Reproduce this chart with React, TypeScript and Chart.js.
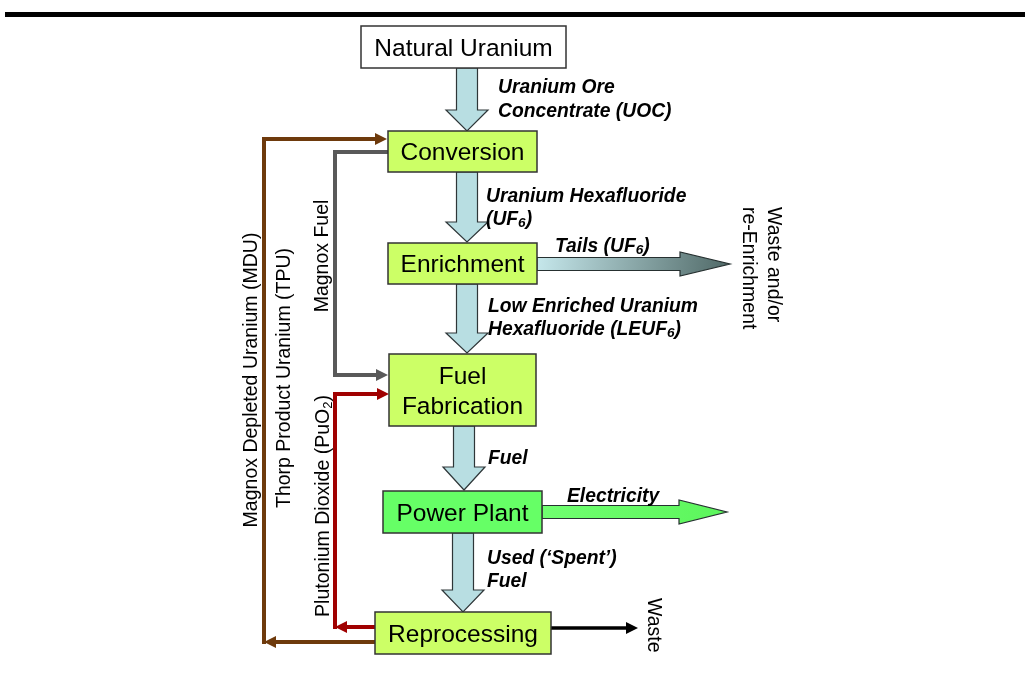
import React, { useEffect, useRef } from "react";
import { Chart, registerables } from "chart.js";
Chart.register(...registerables);

const W = 1025;
const H = 673;
const FONT = '"Liberation Sans", Arial, sans-serif';

// ---- process boxes (diagram units) ----
const boxLabels = ["Natural Uranium", "Conversion", "Enrichment", "Fuel\nFabrication", "Power Plant", "Reprocessing"];
const boxLeft = [361, 388, 388, 389, 383, 375];
const boxRight = [566, 537, 537, 536, 542, 551];
const boxTop = [26, 131, 243, 354, 491, 612];
const boxBottom = [68, 172, 284, 426, 533, 654];
const boxFill = ["#ffffff", "#ccff66", "#ccff66", "#ccff66", "#66ff66", "#ccff66"];

// ---- main vertical flow arrows ----
const flowX = [467, 467, 467, 464, 463];
const flowFrom = [68, 172, 284, 426, 533];
const flowTo = [131, 242, 353, 490, 612];
const flowHead = [110, 222, 333, 467, 590];

// ---- horizontal outlet arrows ----
const outFrom = [537, 542];
const outTo = [730, 727];
const outHead = [680, 679];
const outY = [264, 512];
const outFillA = ["#c6e8ec", "#70ff70"];
const outFillB = ["#4f6866", "#5cf55c"];

// ---- recycle connectors ----
const linkPaths: number[][][] = [
  [[375, 642], [264, 642]],
  [[264, 642], [264, 139], [387, 139]],
  [[388, 152], [335, 152], [335, 375], [388, 375]],
  [[375, 627], [335, 627]],
  [[335, 627], [335, 394], [389, 394]],
  [[551, 628], [638, 628]],
];
const linkColor = ["#6e3a0c", "#6e3a0c", "#595959", "#a00000", "#a00000", "#000000"];
const linkWidth = [4, 4, 4, 4, 4, 3.5];

// ---- flow annotations (bold italic) ----
const noteText = [
  "Uranium Ore", "Concentrate (UOC)", "Uranium Hexafluoride", "(UF_6)", "Tails (UF_6)",
  "Low Enriched Uranium", "Hexafluoride (LEUF_6)", "Fuel", "Electricity", "Used (\u2018Spent\u2019)", "Fuel",
];
const noteX = [498, 498, 486, 486, 555, 488, 488, 488, 567, 487, 487];
const noteY = [93, 117, 202, 225, 252, 312, 335, 464, 502, 564, 587];

// ---- vertical side labels (reading upward) ----
const sideText = ["Magnox Depleted Uranium (MDU)", "Thorp Product Uranium (TPU)", "Magnox Fuel", "Plutonium Dioxide (PuO_2)"];
const sideX = [250, 283, 321, 322];
const sideY = [380, 378, 256, 506];

// ---- destination labels (reading downward) ----
const destText = ["Waste and/or", "re-Enrichment", "Waste"];
const destX = [775, 750, 655];
const destTop = [207, 207, 598];

type Seg = { t: string; sub: boolean };
function parse(s: string): Seg[] {
  const out: Seg[] = [];
  const parts = s.split(/_(\d)/);
  parts.forEach((p, i) => {
    if (p) out.push({ t: p, sub: i % 2 === 1 });
  });
  return out;
}

function richWidth(ctx: CanvasRenderingContext2D, segs: Seg[], main: string, sub: string) {
  let w = 0;
  for (const s of segs) {
    ctx.font = s.sub ? sub : main;
    w += ctx.measureText(s.t).width;
  }
  return w;
}

function drawRich(ctx: CanvasRenderingContext2D, segs: Seg[], x: number, y: number, main: string, sub: string, subShift: number) {
  let cx = x;
  for (const s of segs) {
    ctx.font = s.sub ? sub : main;
    ctx.fillText(s.t, cx, s.sub ? y + subShift : y);
    cx += ctx.measureText(s.t).width;
  }
}

export default function App() {
  const ref = useRef<HTMLCanvasElement>(null);
  useEffect(() => {
    document.body.style.margin = "0";
    document.body.style.overflow = "hidden";
    const plugin = {
      id: "flowsheet",
      afterDatasetsDraw(chart: any) {
        const ctx: CanvasRenderingContext2D = chart.ctx;
        const xs = chart.scales.x;
        const ys = chart.scales.y;
        const px = (v: number) => xs.getPixelForValue(v);
        const py = (v: number) => ys.getPixelForValue(v);
        ctx.save();

        // top rule
        ctx.fillStyle = "#000";
        ctx.fillRect(px(5), py(12), px(1025) - px(5), py(17) - py(12));

        // vertical flow arrows
        for (let i = 0; i < flowX.length; i++) {
          const c = flowX[i];
          const sh = 10.5, hh = 21;
          ctx.beginPath();
          ctx.moveTo(px(c - sh), py(flowFrom[i]));
          ctx.lineTo(px(c + sh), py(flowFrom[i]));
          ctx.lineTo(px(c + sh), py(flowHead[i]));
          ctx.lineTo(px(c + hh), py(flowHead[i]));
          ctx.lineTo(px(c), py(flowTo[i]));
          ctx.lineTo(px(c - hh), py(flowHead[i]));
          ctx.lineTo(px(c - sh), py(flowHead[i]));
          ctx.closePath();
          ctx.fillStyle = "#b8dee2";
          ctx.fill();
          ctx.strokeStyle = "#2e3638";
          ctx.lineWidth = 1.2;
          ctx.stroke();
        }

        // horizontal outlet arrows
        for (let i = 0; i < outFrom.length; i++) {
          const y = outY[i];
          const sh = 6.5, hh = 12;
          ctx.beginPath();
          ctx.moveTo(px(outFrom[i]), py(y - sh));
          ctx.lineTo(px(outHead[i]), py(y - sh));
          ctx.lineTo(px(outHead[i]), py(y - hh));
          ctx.lineTo(px(outTo[i]), py(y));
          ctx.lineTo(px(outHead[i]), py(y + hh));
          ctx.lineTo(px(outHead[i]), py(y + sh));
          ctx.lineTo(px(outFrom[i]), py(y + sh));
          ctx.closePath();
          const g = ctx.createLinearGradient(px(outFrom[i]), py(y - hh), px(outTo[i]), py(y + hh));
          g.addColorStop(0, outFillA[i]);
          g.addColorStop(1, outFillB[i]);
          ctx.fillStyle = g;
          ctx.fill();
          ctx.strokeStyle = "#263030";
          ctx.lineWidth = 1.2;
          ctx.stroke();
        }

        // connectors
        for (let i = 0; i < linkPaths.length; i++) {
          const pts = linkPaths[i];
          const n = pts.length;
          const [ex, ey] = pts[n - 1];
          const [bx, by] = pts[n - 2];
          const len = Math.hypot(ex - bx, ey - by);
          const ux = (ex - bx) / len, uy = (ey - by) / len;
          const hl = 12, hw = 6;
          const baseX = ex - ux * hl, baseY = ey - uy * hl;
          ctx.beginPath();
          ctx.moveTo(px(pts[0][0]), py(pts[0][1]));
          for (let k = 1; k < n - 1; k++) ctx.lineTo(px(pts[k][0]), py(pts[k][1]));
          ctx.lineTo(px(baseX + ux * 1), py(baseY + uy * 1));
          ctx.strokeStyle = linkColor[i];
          ctx.lineWidth = linkWidth[i];
          ctx.lineJoin = "miter";
          ctx.lineCap = "square";
          ctx.stroke();
          ctx.beginPath();
          ctx.moveTo(px(ex), py(ey));
          ctx.lineTo(px(baseX - uy * hw), py(baseY + ux * hw));
          ctx.lineTo(px(baseX + uy * hw), py(baseY - ux * hw));
          ctx.closePath();
          ctx.fillStyle = linkColor[i];
          ctx.fill();
        }

        // boxes
        for (let i = 0; i < boxLabels.length; i++) {
          const x0 = px(boxLeft[i]), x1 = px(boxRight[i]);
          const y0 = py(boxTop[i]), y1 = py(boxBottom[i]);
          ctx.fillStyle = boxFill[i];
          ctx.fillRect(x0, y0, x1 - x0, y1 - y0);
          ctx.strokeStyle = "#333333";
          ctx.lineWidth = 1.5;
          ctx.strokeRect(x0, y0, x1 - x0, y1 - y0);
          const lines = boxLabels[i].split("\n");
          const size = 24.5;
          ctx.font = `${size}px ${FONT}`;
          ctx.fillStyle = "#000";
          ctx.textAlign = "center";
          ctx.textBaseline = "alphabetic";
          const lh = 30;
          const cy = (y0 + y1) / 2;
          const cx = (x0 + x1) / 2;
          lines.forEach((ln, k) => {
            const base = cy + size * 0.36 + (k - (lines.length - 1) / 2) * lh;
            ctx.fillText(ln, cx, base);
          });
        }

        // annotations
        ctx.textAlign = "left";
        ctx.textBaseline = "alphabetic";
        ctx.fillStyle = "#000";
        const noteMain = `italic bold 19.3px ${FONT}`;
        const noteSub = `italic bold 13.5px ${FONT}`;
        for (let i = 0; i < noteText.length; i++) {
          drawRich(ctx, parse(noteText[i]), px(noteX[i]), py(noteY[i]), noteMain, noteSub, 2);
        }

        // side labels (rotated counter-clockwise)
        const sideMain = `19.5px ${FONT}`;
        const sideSub = `13px ${FONT}`;
        for (let i = 0; i < sideText.length; i++) {
          const segs = parse(sideText[i]);
          const w = richWidth(ctx, segs, sideMain, sideSub);
          ctx.save();
          ctx.translate(px(sideX[i]), py(sideY[i]));
          ctx.rotate(-Math.PI / 2);
          ctx.textAlign = "left";
          ctx.textBaseline = "alphabetic";
          drawRich(ctx, segs, -w / 2, 7, sideMain, sideSub, 3);
          ctx.restore();
        }

        // destination labels (rotated clockwise)
        for (let i = 0; i < destText.length; i++) {
          ctx.save();
          ctx.translate(px(destX[i]), py(destTop[i]));
          ctx.rotate(Math.PI / 2);
          ctx.font = sideMain;
          ctx.textAlign = "left";
          ctx.textBaseline = "alphabetic";
          ctx.fillText(destText[i], 0, 7);
          ctx.restore();
        }

        ctx.restore();
      },
    };

    const chart = new Chart(ref.current as HTMLCanvasElement, {
      type: "scatter",
      data: { datasets: [{ data: [], pointRadius: 0 }] },
      options: {
        responsive: false,
        animation: false,
        layout: { padding: 0 },
        events: [],
        scales: {
          x: { type: "linear", min: 0, max: W, display: false },
          y: { type: "linear", min: 0, max: H, reverse: true, display: false },
        },
        plugins: { legend: { display: false }, tooltip: { enabled: false } },
      },
      plugins: [plugin],
    } as any);
    return () => chart.destroy();
  }, []);

  return (
    <div style={{ position: "absolute", left: 0, top: 0, width: W, height: H, background: "#fff" }}>
      <canvas ref={ref} width={W} height={H} style={{ display: "block", width: W, height: H }} />
    </div>
  );
}
